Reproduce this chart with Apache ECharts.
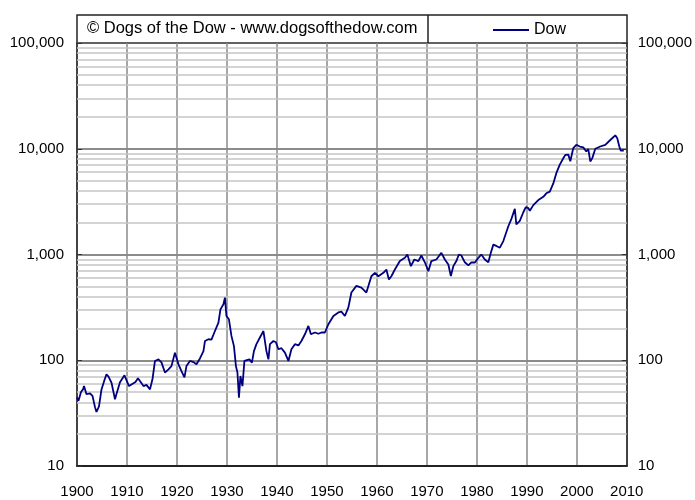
<!DOCTYPE html>
<html>
<head>
<meta charset="utf-8">
<script src="https://cdn.jsdelivr.net/npm/echarts@6/dist/echarts.min.js"></script>
<style>html,body{margin:0;padding:0;background:#fff;}#c{width:695px;height:500px;}</style>
</head>
<body>
<div id="c"></div>
<script>
var years = [1900.0,1900.3,1900.8,1901.2,1901.4,1901.9,1902.6,1903.1,1903.6,1903.9,1904.4,1904.9,1905.5,1905.9,1906.3,1906.9,1907.6,1907.9,1908.6,1909.5,1909.9,1910.4,1910.9,1911.7,1912.2,1912.6,1913.3,1913.9,1914.6,1915.1,1915.6,1916.3,1916.9,1917.6,1918.3,1918.9,1919.6,1920.3,1920.9,1921.5,1921.9,1922.6,1923.3,1923.9,1924.6,1925.3,1925.6,1926.3,1926.9,1927.6,1928.3,1928.7,1929.3,1929.6,1929.9,1930.4,1930.9,1931.4,1931.8,1932.1,1932.4,1932.7,1933.1,1933.5,1933.9,1934.5,1935.0,1935.4,1935.9,1936.6,1937.3,1937.6,1937.9,1938.3,1938.6,1939.3,1939.8,1940.3,1940.9,1941.6,1942.3,1942.9,1943.6,1944.3,1944.9,1945.6,1946.3,1946.8,1947.6,1948.3,1948.9,1949.6,1950.3,1951.3,1952.3,1952.9,1953.6,1954.3,1954.9,1955.9,1956.9,1957.9,1958.9,1959.6,1960.3,1960.6,1961.3,1961.9,1962.4,1962.9,1963.6,1964.6,1965.6,1966.1,1966.8,1967.5,1968.3,1968.9,1969.6,1970.3,1970.9,1971.9,1972.9,1973.6,1974.3,1974.8,1975.3,1975.9,1976.4,1976.9,1977.6,1978.3,1978.9,1979.6,1980.3,1980.9,1981.6,1982.3,1982.8,1983.3,1983.9,1984.6,1985.3,1986.3,1986.9,1987.6,1987.9,1988.6,1989.3,1989.8,1990.3,1990.6,1991.3,1992.3,1993.3,1993.9,1994.6,1995.3,1995.9,1996.6,1997.3,1997.7,1998.3,1998.7,1999.3,1999.9,2000.6,2001.3,2001.9,2002.3,2002.7,2003.1,2003.7,2004.7,2005.7,2006.7,2007.7,2008.1,2008.5,2008.8,2009.4];
var dowValues = [44.6,41.3,50,53,57.2,47.7,48.7,46,36,32.4,36.7,53,65,73.7,70,61.5,42.8,48,61.8,72,69,57,59,62.3,67.5,69,57,58.5,53,66,98.5,102,95.5,76.5,82,88,118,91.6,79,69,88,98.5,96,91.6,104,122,152,158,157,189,227,303,338,391,262,244,170,136,88,76.5,44.3,71,57,98.5,97,102,95,122,142,164,189,182,122,102,142,152,148,127,130,118,98.5,127,142,138,152,176,211,176,183,178,183,183,219,262,283,288,262,316,437,505,486,437,623,671,623,604,671,721,581,623,721,867,930,1000,776,897,867,978,844,695,867,897,1037,897,804,626,776,867,1000,978,844,789,844,840,930,1000,897,844,1037,1240,1205,1160,1340,1850,2160,2710,1930,2080,2510,2810,2750,2590,2930,3270,3510,3790,3930,4700,5880,7070,8130,8760,8800,7600,10150,10900,10500,10300,9420,9900,7580,8150,10000,10500,10900,12100,13400,12570,10500,9600,9600];
var yTickLabels = ['10','100','1,000','10,000','100,000'];
var xTickLabels = ['1900','1910','1920','1930','1940','1950','1960','1970','1980','1990','2000','2010'];
var minorGrid = [];
[10,100,1000,10000].forEach(function(d){ for (var m=2;m<=9;m++) minorGrid.push(d*m); });

function fmtY(v){ return String(Math.round(v)).replace(/\B(?=(\d{3})+(?!\d))/g, ','); }

var chart = echarts.init(document.getElementById('c'), null, {renderer:'canvas'});
var font = 'Liberation Sans, Arial, sans-serif';
var yAxisBase = {
  type:'log', logBase:10, min:10, max:100000,
  axisLine:{show:false},
  axisTick:{show:true, inside:true, length:5, lineStyle:{color:'#333'}},
  axisLabel:{color:'#000', fontSize:15, fontFamily:font, formatter:fmtY},
  minorTick:{show:false}, minorSplitLine:{show:false}
};
var option = {
  animation:false,
  backgroundColor:'#fff',
  grid:{left:77, right:68, top:43, bottom:34, containLabel:false, show:false},
  legend:{
    left:488, top:17, itemWidth:36, itemHeight:2, icon:'rect', itemGap:5,
    textStyle:{color:'#000', fontSize:16, fontFamily:font},
    data:['Dow']
  },
  graphic:[
    {type:'rect', shape:{x:77, y:15, width:550, height:28}, style:{fill:'#fff', stroke:'#222', lineWidth:1.5}, z:0},
    {type:'line', shape:{x1:428, y1:15, x2:428, y2:43}, style:{stroke:'#222', lineWidth:1.5}, z:1},
    {type:'text', left:87, top:20, style:{text:'\u00A9 Dogs of the Dow - www.dogsofthedow.com', fill:'#000', font:'16.5px Liberation Sans, Arial, sans-serif'}, z:2}
  ],
  xAxis:{
    type:'value', min:1900, max:2010, interval:10,
    axisLine:{show:true, onZero:false, lineStyle:{color:'#222', width:2}},
    axisTick:{show:false},
    axisLabel:{color:'#000', fontSize:15, fontFamily:font, margin:18, formatter:function(v){return String(v);}},
    splitLine:{show:true, lineStyle:{color:'#8a8a8a', width:1.5}}
  },
  yAxis:[
    Object.assign({}, yAxisBase, {position:'left', axisLabel:Object.assign({}, yAxisBase.axisLabel, {margin:13}),
      axisLine:{show:true, lineStyle:{color:'#222', width:1.5}},
      splitLine:{show:true, lineStyle:{color:'#666', width:1.5}}}),
    Object.assign({}, yAxisBase, {position:'right', axisLabel:Object.assign({}, yAxisBase.axisLabel, {margin:11}),
      axisLine:{show:true, lineStyle:{color:'#222', width:1.5}},
      splitLine:{show:false}})
  ],
  series:[{
    name:'Dow', type:'line', yAxisIndex:0, showSymbol:false, symbol:'none',
    lineStyle:{color:'#000080', width:1.8}, itemStyle:{color:'#000080'},
    data: years.map(function(y,i){ return [y, dowValues[i]]; }),
    z:5,
    markLine:{
      silent:true, symbol:['none','none'], label:{show:false},
      lineStyle:{color:'#c4c4c4', width:1.5, type:'solid'},
      data: minorGrid.map(function(v){ return {yAxis:v}; }),
      z:1
    }
  }]
};
chart.setOption(option);
</script>
</body>
</html>
